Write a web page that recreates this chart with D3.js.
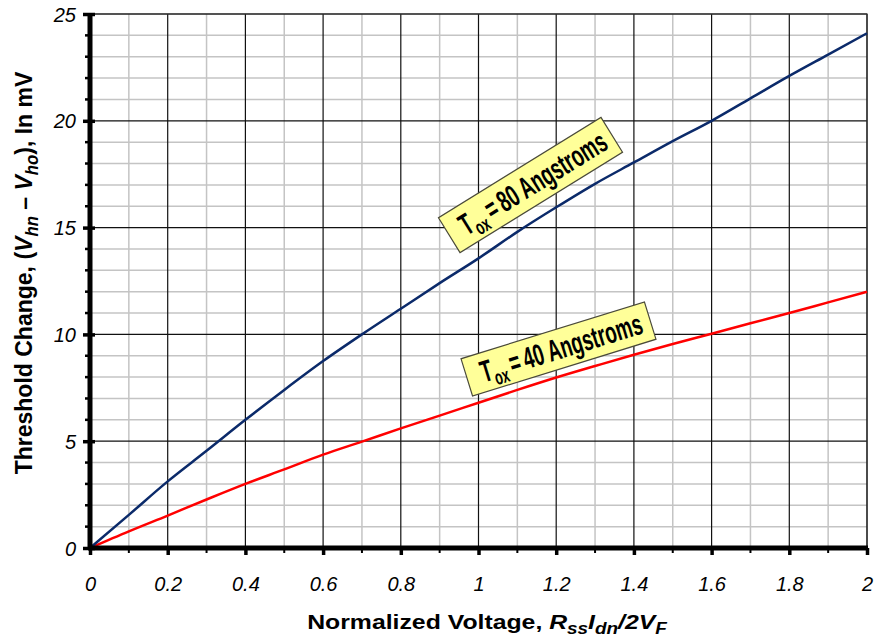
<!DOCTYPE html>
<html>
<head>
<meta charset="utf-8">
<script src="https://cdn.jsdelivr.net/npm/d3@7"></script>
<style>
  body { margin: 0; background: #fff; }
  text { font-family: 'Liberation Sans', Arial, sans-serif; }
</style>
</head>
<body>
<div id="chart"></div>
<script>
// normalized voltage
const xValues = [0, 0.1, 0.2, 0.3, 0.4, 0.5, 0.6, 0.7, 0.8, 0.9, 1.0, 1.1, 1.2, 1.3, 1.4, 1.5, 1.6, 1.7, 1.8, 1.9, 2.0]
// threshold change, mV
const tox80 = [0, 1.55, 3.12, 4.55, 6.0, 7.4, 8.75, 10.0, 11.2, 12.4, 13.56, 14.8, 15.95, 17.05, 18.05, 19.05, 20.0, 21.05, 22.1, 23.1, 24.1]
const tox40 = [0, 0.78, 1.52, 2.27, 3.0, 3.68, 4.37, 4.98, 5.6, 6.2, 6.8, 7.4, 7.98, 8.52, 9.05, 9.55, 10.03, 10.52, 11.0, 11.5, 12.0]

const xTicks = [0, 0.2, 0.4, 0.6, 0.8, 1, 1.2, 1.4, 1.6, 1.8, 2]
const yTicks = [0, 5, 10, 15, 20, 25]

const width = 875
const height = 642
const margin = { top: 14, left: 90, right: 8, bottom: 94 }

const svg = d3
  .select('#chart')
  .append('svg')
  .attr('width', width)
  .attr('height', height)

const xScale = d3.scaleLinear().domain([0, 2]).range([margin.left, width - margin.right])
const yScale = d3.scaleLinear().domain([0, 25]).range([height - margin.bottom, margin.top])

const x0 = xScale(0), x1 = xScale(2), y0 = yScale(0), y1 = yScale(25)

// grid: minor grey, then major black
const minorX = d3.range(1, 20).map(d => d / 10).filter(d => Math.round(d * 10) % 2 === 1)
const minorY = d3.range(1, 25).filter(d => d % 5 !== 0)

svg.append('g')
  .selectAll('line')
  .data(minorX)
  .enter()
  .append('line')
  .attr('x1', d => xScale(d)).attr('x2', d => xScale(d))
  .attr('y1', y1).attr('y2', y0)
  .attr('stroke', '#c4c4c4')
  .attr('stroke-width', 1.5)

svg.append('g')
  .selectAll('line')
  .data(minorY)
  .enter()
  .append('line')
  .attr('y1', d => yScale(d)).attr('y2', d => yScale(d))
  .attr('x1', x0).attr('x2', x1)
  .attr('stroke', '#c4c4c4')
  .attr('stroke-width', 1.5)

svg.append('g')
  .selectAll('line')
  .data(xTicks.slice(1))
  .enter()
  .append('line')
  .attr('x1', d => xScale(d)).attr('x2', d => xScale(d))
  .attr('y1', y1).attr('y2', y0)
  .attr('stroke', '#111')
  .attr('stroke-width', 1.2)

svg.append('g')
  .selectAll('line')
  .data(yTicks.slice(1))
  .enter()
  .append('line')
  .attr('y1', d => yScale(d)).attr('y2', d => yScale(d))
  .attr('x1', x0).attr('x2', x1)
  .attr('stroke', '#111')
  .attr('stroke-width', 1.2)

// plot border (top / right thin)
svg.append('rect')
  .attr('x', x0).attr('y', y1)
  .attr('width', x1 - x0).attr('height', y0 - y1)
  .attr('fill', 'none')
  .attr('stroke', '#333')
  .attr('stroke-width', 1.2)

// curves
const line = d3
  .line()
  .curve(d3.curveMonotoneX)
  .x((d, i) => xScale(xValues[i]))
  .y(d => yScale(d))

svg.append('path')
  .datum(tox40)
  .attr('d', line)
  .attr('fill', 'none')
  .attr('stroke', '#ff0000')
  .attr('stroke-width', 2.5)

svg.append('path')
  .datum(tox80)
  .attr('d', line)
  .attr('fill', 'none')
  .attr('stroke', '#0b2a6a')
  .attr('stroke-width', 2.5)

// axes
const tickFont = "italic 20px 'Liberation Sans', Arial, sans-serif"

const xAxis = d3.axisBottom(xScale)
  .tickValues(xTicks)
  .tickSize(7)
  .tickFormat(d => d3.format('')(+d.toFixed(1)))

const gx = svg.append('g')
  .attr('transform', 'translate(0,' + y0 + ')')
  .call(xAxis)
gx.select('.domain').remove()
gx.selectAll('.tick line').attr('stroke', '#000').attr('stroke-width', 3.5)
gx.selectAll('.tick text')
  .attr('dy', 0)
  .attr('y', 43)
  .style('font', tickFont)
  .attr('fill', '#000')

svg.append('g')
  .selectAll('line')
  .data(minorX)
  .enter()
  .append('line')
  .attr('x1', d => xScale(d)).attr('x2', d => xScale(d))
  .attr('y1', y0).attr('y2', y0 + 5)
  .attr('stroke', '#000')
  .attr('stroke-width', 2)

const yAxis = d3.axisLeft(yScale)
  .tickValues(yTicks)
  .tickSize(7)

const gy = svg.append('g')
  .attr('transform', 'translate(' + x0 + ',0)')
  .call(yAxis)
gy.select('.domain').remove()
gy.selectAll('.tick line').attr('stroke', '#000').attr('stroke-width', 3.5).attr('x2', 5).attr('x1', -7)
gy.selectAll('.tick text')
  .attr('x', -14)
  .attr('dy', '0.35em')
  .style('font', tickFont)
  .attr('fill', '#000')

svg.append('g')
  .selectAll('line')
  .data(minorY)
  .enter()
  .append('line')
  .attr('y1', d => yScale(d)).attr('y2', d => yScale(d))
  .attr('x1', x0 - 5).attr('x2', x0)
  .attr('stroke', '#000')
  .attr('stroke-width', 2.5)

// thick axis lines
svg.append('line')
  .attr('x1', x0).attr('x2', x0)
  .attr('y1', y1 - 1).attr('y2', y0 + 2)
  .attr('stroke', '#000').attr('stroke-width', 5)
svg.append('line')
  .attr('x1', x0 - 2).attr('x2', x1 + 1)
  .attr('y1', y0).attr('y2', y0)
  .attr('stroke', '#000').attr('stroke-width', 5)

// stretch a text run to a given length (the original looks squeezed/stretched)
function fit(t, base, target, sy) {
  const len = t.node().getComputedTextLength()
  t.attr('transform', base + ' scale(' + target / len + ',' + sy + ')')
}

// axis titles
const yTitle = svg.append('text')
  .attr('text-anchor', 'middle')
  .attr('font-size', 22)
  .attr('font-weight', 700)
yTitle.append('tspan').text('Threshold Change, (')
yTitle.append('tspan').attr('font-style', 'italic').text('V')
yTitle.append('tspan').attr('font-style', 'italic').attr('font-size', 16).attr('dy', 5).text('hn')
yTitle.append('tspan').attr('dy', -5).text(' \u2013 ')
yTitle.append('tspan').attr('font-style', 'italic').text('V')
yTitle.append('tspan').attr('font-style', 'italic').attr('font-size', 16).attr('dy', 5).text('ho')
yTitle.append('tspan').attr('dy', -5).text('), In mV')
fit(yTitle, 'translate(32,273) rotate(-90)', 403, 1.12)

const xTitle = svg.append('text')
  .attr('text-anchor', 'middle')
  .attr('font-size', 21)
  .attr('font-weight', 700)
xTitle.append('tspan').text('Normalized Voltage, ')
xTitle.append('tspan').attr('font-style', 'italic').text('R')
xTitle.append('tspan').attr('font-style', 'italic').attr('font-size', 16).attr('dy', 5).text('ss')
xTitle.append('tspan').attr('font-style', 'italic').attr('dy', -5).text('I')
xTitle.append('tspan').attr('font-style', 'italic').attr('font-size', 16).attr('dy', 5).text('dn')
xTitle.append('tspan').attr('font-style', 'italic').attr('dy', -5).text('/2V')
xTitle.append('tspan').attr('font-style', 'italic').attr('font-size', 16).attr('dy', 5).text('F')
fit(xTitle, 'translate(487,629)', 360, 1)

// annotation boxes
const notes = [
  { label: '80 Angstroms', cx: 530.5, cy: 185, angle: -31.7, w: 191, h: 41 },
  { label: '40 Angstroms', cx: 558.5, cy: 349, angle: -17.2, w: 192, h: 39 }
]

notes.forEach(n => {
  const g = svg.append('g')
    .attr('transform', 'translate(' + n.cx + ',' + n.cy + ') rotate(' + n.angle + ')')
  g.append('rect')
    .attr('x', -n.w / 2).attr('y', -n.h / 2)
    .attr('width', n.w).attr('height', n.h)
    .attr('fill', '#ffff99')
    .attr('stroke', '#4a4a3a')
    .attr('stroke-width', 1.2)
  const t = g.append('text')
    .attr('text-anchor', 'middle')
    .attr('font-size', 28)
    .attr('font-weight', 700)
  t.append('tspan').text('T')
  t.append('tspan').attr('font-size', 19).attr('dy', 6).text('ox')
  t.append('tspan').attr('dy', -6).text('\u2009=\u2009' + n.label)
  fit(t, 'translate(3,10)', 168, 1.08)
})
</script>
</body>
</html>
